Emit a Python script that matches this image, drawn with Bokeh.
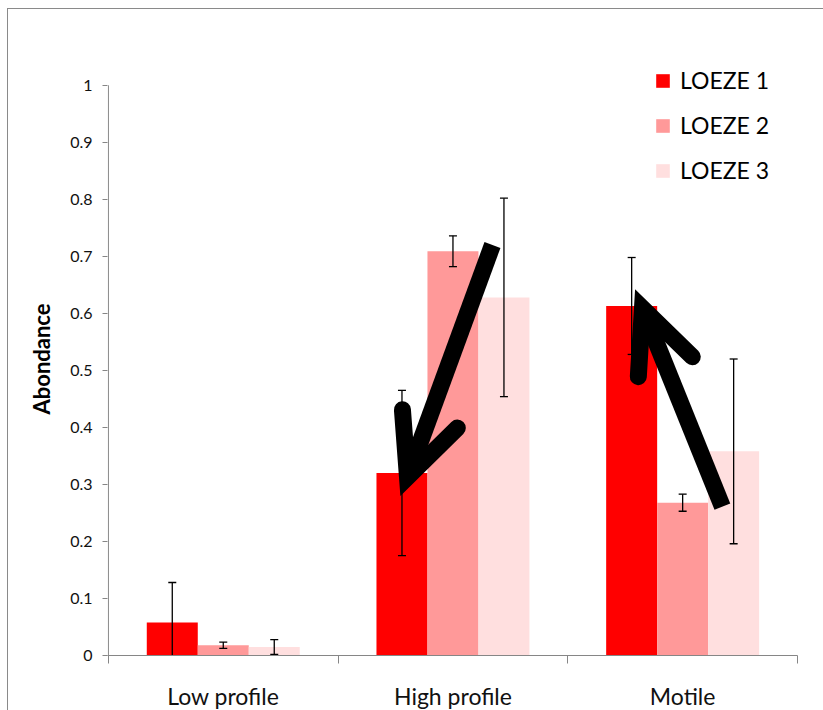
from bokeh.plotting import figure
from bokeh.models import Range1d, FixedTicker, Legend, LegendItem, ColumnDataSource
from bokeh.embed import file_html
from bokeh.resources import INLINE

categories = ["Low profile", "High profile", "Motile"]
series_names = ["LOEZE 1", "LOEZE 2", "LOEZE 3"]
loeze1 = [0.058, 0.320, 0.613]
loeze1_err = [0.070, 0.145, 0.085]
loeze2 = [0.018, 0.709, 0.268]
loeze2_err = [0.0055, 0.027, 0.015]
loeze3 = [0.015, 0.628, 0.358]
loeze3_err = [0.013, 0.174, 0.162]
colors = ["#FF0000", "#FF9999", "#FFDFDF"]

y_ticks = [0.0, 0.1, 0.2, 0.3, 0.4, 0.5, 0.6, 0.7, 0.8, 0.9, 1.0]
y_tick_labels = ["0", "0.1", "0.2", "0.3", "0.4", "0.5", "0.6", "0.7", "0.8", "0.9", "1"]

# hand-drawn arrows (annotation), x in category units (0..3), y in abundance
arrow_tail_x = [1.672, 2.673]
arrow_tail_y = [0.720, 0.261]
arrow_tip_x = [1.302, 2.325]
arrow_tip_y = [0.313, 0.609]
arrow_left_x = [1.280, 2.307]
arrow_left_y = [0.431, 0.489]
arrow_right_x = [1.519, 2.542]
arrow_right_y = [0.399, 0.524]

FONT = "Lato"
offsets = [-0.222, 0.0, 0.222]
bar_w = 0.222

p = figure(width=818, height=703, output_backend="svg", toolbar_location=None,
           x_range=Range1d(-0.004, 3), y_range=Range1d(0, 1.04),
           min_border_left=99, min_border_right=29, min_border_top=53, min_border_bottom=56)
p.styles = {"border": "1px solid #8a8a8a", "margin-left": "7px", "margin-top": "8px"}
p.outline_line_color = None
p.xgrid.grid_line_color = None
p.ygrid.grid_line_color = None
p.background_fill_color = "white"
p.border_fill_color = "white"

AX = "#868686"

values = [loeze1, loeze2, loeze3]
errs = [loeze1_err, loeze2_err, loeze3_err]
renderers = []
for s, (vals, err, col, off) in enumerate(zip(values, errs, colors, offsets)):
    xs = [i + 0.5 + off for i in range(len(categories))]
    src = ColumnDataSource(dict(x=xs, top=vals))
    r = p.vbar(x="x", top="top", width=bar_w, bottom=0, source=src,
               fill_color=col, line_color=None)
    renderers.append(r)

for s, (vals, err, off) in enumerate(zip(values, errs, offsets)):
    xs = [i + 0.5 + off for i in range(len(categories))]
    src = ColumnDataSource(dict(x=xs,
                                lo=[v - e for v, e in zip(vals, err)],
                                hi=[v + e for v, e in zip(vals, err)]))
    p.segment(x0="x", y0="lo", x1="x", y1="hi", source=src, line_color="black", line_width=1.3)
    p.scatter(x="x", y="lo", marker="dash", size=8, source=src, line_color="black", line_width=1.3)
    p.scatter(x="x", y="hi", marker="dash", size=8, source=src, line_color="black", line_width=1.3)

# y axis line drawn from 0 to 1 only
p.segment(x0=[0], y0=[y_ticks[0]], x1=[0], y1=[y_ticks[-1]], line_color=AX, line_width=1)

# arrows
p.segment(x0=arrow_tail_x, y0=arrow_tail_y, x1=arrow_tip_x, y1=arrow_tip_y,
          line_color="black", line_width=17, line_cap="butt")
head_xs = [[lx, tx, rx] for lx, tx, rx in zip(arrow_left_x, arrow_tip_x, arrow_right_x)]
head_ys = [[ly, ty, ry] for ly, ty, ry in zip(arrow_left_y, arrow_tip_y, arrow_right_y)]
p.multi_line(xs=head_xs, ys=head_ys, line_color="black", line_width=17,
             line_cap="round", line_join="miter")

# axes
xa = p.xaxis[0]
xa.ticker = FixedTicker(ticks=[0.5, 1.5, 2.5], minor_ticks=[0, 1, 2, 3])
xa.major_label_overrides = {0.5: categories[0], 1.5: categories[1], 2.5: categories[2]}
xa.major_tick_out = 0
xa.major_tick_in = 0
xa.minor_tick_out = 8
xa.minor_tick_in = 0
xa.minor_tick_line_color = AX
xa.axis_line_color = AX
xa.major_label_standoff = 18
xa.major_label_text_font = FONT
xa.major_label_text_font_size = "23px"
xa.major_label_text_color = "#111111"

ya = p.yaxis[0]
ya.ticker = FixedTicker(ticks=y_ticks)
ya.major_label_overrides = {t: l for t, l in zip(y_ticks, y_tick_labels)}
ya.major_tick_out = 5
ya.major_tick_in = 0
ya.minor_tick_line_color = None
ya.major_tick_line_color = AX
ya.axis_line_color = None
ya.major_label_standoff = 10
ya.major_label_text_font = FONT
ya.major_label_text_font_size = "16px"
ya.major_label_text_color = "#111111"
ya.axis_label = "Abondance"
ya.axis_label_text_font = FONT
ya.axis_label_text_font_style = "bold"
ya.axis_label_text_font_size = "22px"
ya.axis_label_text_color = "#000000"
ya.axis_label_standoff = 12

legend = Legend(items=[LegendItem(label=n, renderers=[r]) for n, r in zip(series_names, renderers)],
                location=(547, 471), padding=0, margin=0, spacing=17,
                glyph_width=17, glyph_height=17, label_standoff=9,
                label_text_font=FONT, label_text_font_size="23px",
                label_text_color="#000000",
                border_line_color=None, background_fill_alpha=0)
p.add_layout(legend, "center")

open("out.html", "w").write(file_html(p, INLINE))
